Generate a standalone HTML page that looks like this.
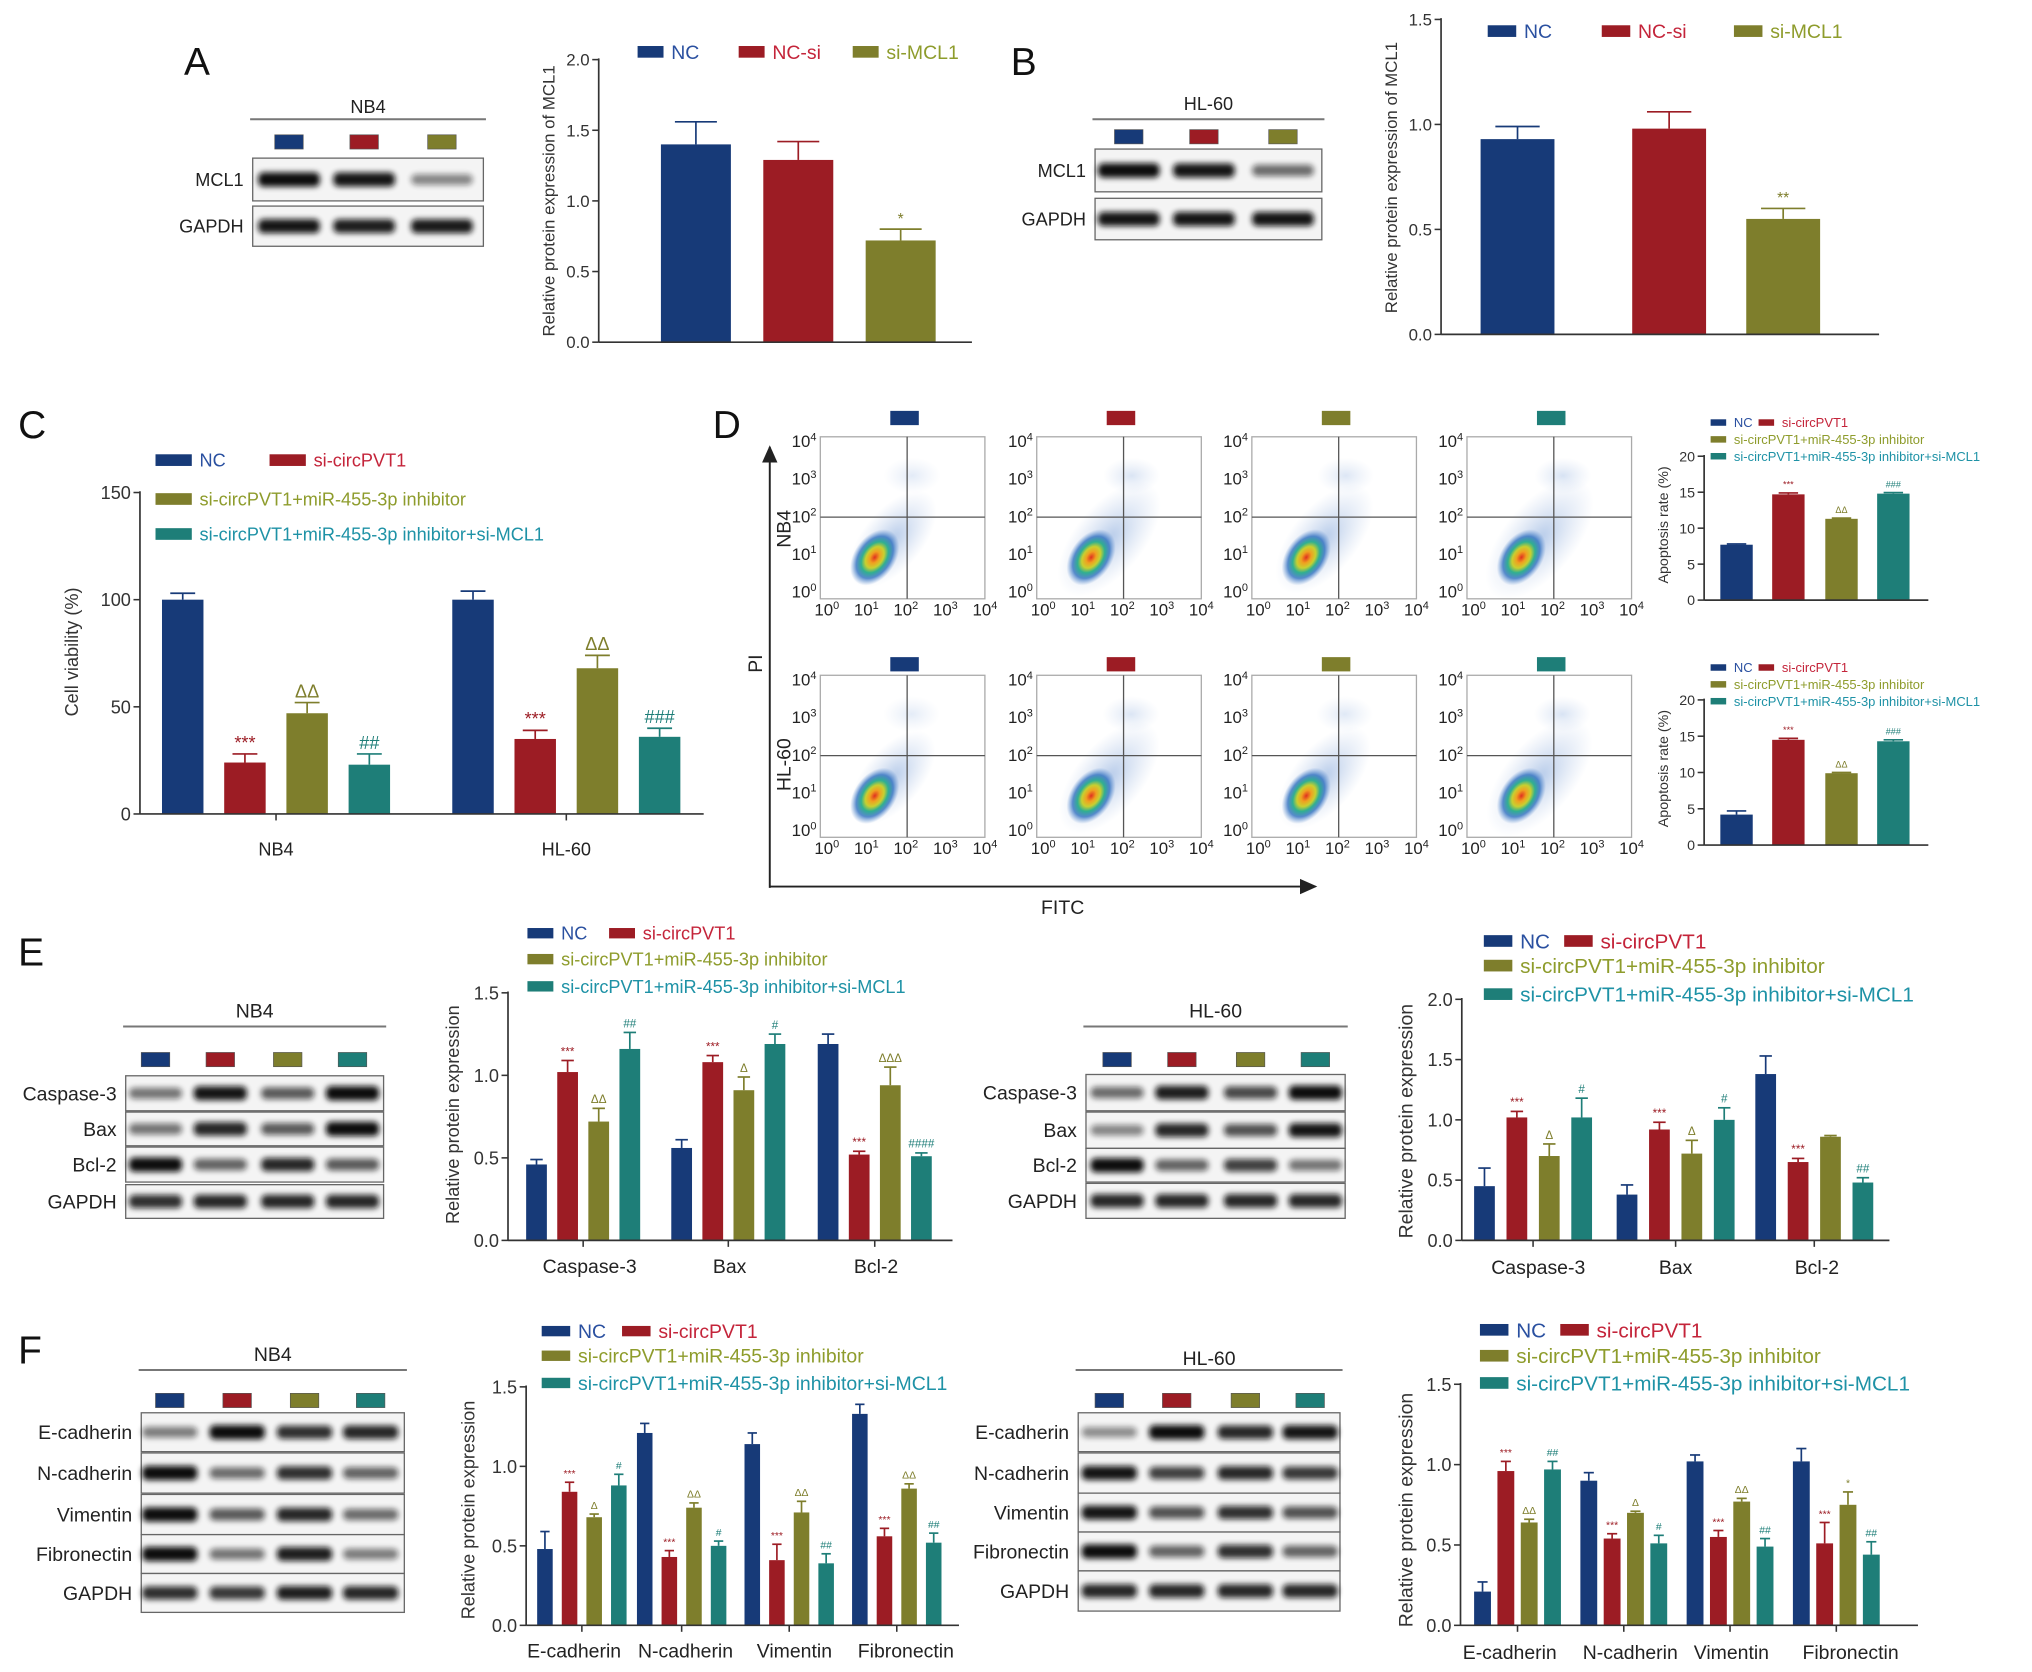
<!DOCTYPE html>
<html><head><meta charset="utf-8"><style>
html,body{margin:0;padding:0;background:#fff;}
svg{display:block;font-family:"Liberation Sans",Arial,sans-serif;}
</style></head><body>
<svg id="fig" xmlns="http://www.w3.org/2000/svg" width="2032" height="1672" viewBox="0 0 1568 1290" preserveAspectRatio="none">
<defs>
<filter id="blur" x="-20%" y="-100%" width="140%" height="300%"><feGaussianBlur stdDeviation="2.2"/></filter>
<radialGradient id="dens"><stop offset="0" stop-color="#e03020"/><stop offset="0.2" stop-color="#f0a020"/><stop offset="0.38" stop-color="#c8d030"/><stop offset="0.55" stop-color="#30b090"/><stop offset="0.75" stop-color="#3070c0" stop-opacity="0.8"/><stop offset="1" stop-color="#6090d0" stop-opacity="0"/></radialGradient>
<radialGradient id="halo"><stop offset="0" stop-color="#7aa0d8" stop-opacity="0.55"/><stop offset="1" stop-color="#a0b8e0" stop-opacity="0"/></radialGradient>
<marker id="arr" markerWidth="10" markerHeight="10" refX="8" refY="5" orient="auto"><path d="M0,1 L9,5 L0,9 z" fill="#222"/></marker>
</defs>
<g id="root"></g>
</svg>
<script>
// ---------------- DATA ----------------
const aCats = ['NC','NC-si','si-MCL1'];
const aVals = [1.40, 1.29, 0.72];
const aErr  = [1.56, 1.42, 0.80];
const aMarks = ['', '', '*'];
const aTicks = ['0.0','0.5','1.0','1.5','2.0'];

const bVals = [0.93, 0.98, 0.55];
const bErr  = [0.99, 1.06, 0.60];
const bMarks = ['', '', '**'];
const bTicks = ['0.0','0.5','1.0','1.5'];

const cCats = ['NB4','HL-60'];
const cTicks = ['0','50','100','150'];
const cNC = [100, 100], cNCe = [103, 104];
const cSi = [24, 35], cSie = [28, 39];
const cInh = [47, 68], cInhe = [52, 74];
const cMcl = [23, 36], cMcle = [28, 40];
const cMarks = [['',''],['***','***'],['ΔΔ','ΔΔ'],['##','###']];

const dTicks = ['0','5','10','15','20'];
const dTopVals = [7.7, 14.7, 11.3, 14.8];
const dTopErr  = [7.8, 14.9, 11.4, 14.95];
const dTopMarks = ['', '***', 'ΔΔ', '###'];
const dBotVals = [4.2, 14.5, 9.9, 14.3];
const dBotErr  = [4.7, 14.7, 10.0, 14.5];
const dBotMarks = ['', '***', 'ΔΔ', '###'];

const eCats = ['Caspase-3','Bax','Bcl-2'];
const e1Ticks = ['0.0','0.5','1.0','1.5'];
const e1NC = [0.46, 0.56, 1.19], e1NCe = [0.49, 0.61, 1.25];
const e1Si = [1.02, 1.08, 0.52], e1Sie = [1.09, 1.12, 0.54];
const e1Inh = [0.72, 0.91, 0.94], e1Inhe = [0.80, 0.99, 1.05];
const e1Mcl = [1.16, 1.19, 0.51], e1Mcle = [1.26, 1.25, 0.53];
const e1Marks = [['','',''],['***','***','***'],['ΔΔ','Δ','ΔΔΔ'],['##','#','####']];

const e2Ticks = ['0.0','0.5','1.0','1.5','2.0'];
const e2NC = [0.45, 0.38, 1.38], e2NCe = [0.60, 0.46, 1.53];
const e2Si = [1.02, 0.92, 0.65], e2Sie = [1.07, 0.98, 0.68];
const e2Inh = [0.70, 0.72, 0.86], e2Inhe = [0.80, 0.83, 0.87];
const e2Mcl = [1.02, 1.00, 0.48], e2Mcle = [1.18, 1.10, 0.52];
const e2Marks = [['','',''],['***','***','***'],['Δ','Δ',''],['#','#','##']];

const fCats = ['E-cadherin','N-cadherin','Vimentin','Fibronectin'];
const fTicks = ['0.0','0.5','1.0','1.5'];
const f1NC = [0.48, 1.21, 1.14, 1.33], f1NCe = [0.59, 1.27, 1.21, 1.39];
const f1Si = [0.84, 0.43, 0.41, 0.56], f1Sie = [0.90, 0.47, 0.51, 0.61];
const f1Inh = [0.68, 0.74, 0.71, 0.86], f1Inhe = [0.70, 0.77, 0.78, 0.89];
const f1Mcl = [0.88, 0.50, 0.39, 0.52], f1Mcle = [0.95, 0.53, 0.45, 0.58];
const f1Marks = [['','','',''],['***','***','***','***'],['Δ','ΔΔ','ΔΔ','ΔΔ'],['#','#','##','##']];

const f2NC = [0.21, 0.90, 1.02, 1.02], f2NCe = [0.27, 0.95, 1.06, 1.10];
const f2Si = [0.96, 0.54, 0.55, 0.51], f2Sie = [1.02, 0.57, 0.59, 0.64];
const f2Inh = [0.64, 0.70, 0.77, 0.75], f2Inhe = [0.66, 0.71, 0.79, 0.83];
const f2Mcl = [0.97, 0.51, 0.49, 0.44], f2Mcle = [1.02, 0.56, 0.54, 0.52];
const f2Marks = [['','','',''],['***','***','***','***'],['ΔΔ','Δ','ΔΔ','*'],['##','#','##','##']];

// ---------------- HELPERS ----------------
const NS = 'http://www.w3.org/2000/svg';
const root = document.getElementById('root');
const COL = ['#173a78', '#9c1c24', '#7e7e2c', '#1e7e78'];
const TCOL = ['#2a50a0', '#c4243a', '#8e9c2c', '#1e92a6'];
function mk(tag, attrs, parent, text) {
  const e = document.createElementNS(NS, tag);
  for (const k in attrs) e.setAttribute(k, attrs[k]);
  if (text !== undefined) e.textContent = text;
  (parent || root).appendChild(e);
  return e;
}
function txt(x, y, s, size, anchor, color, parent, extra) {
  const a = Object.assign({x: x, y: y, 'font-size': size, 'text-anchor': anchor || 'start', fill: color || '#222'}, extra || {});
  const t = mk('text', a, parent, s);
  return t;
}

function barChart(cfg) {
  const g = mk('g', {});
  
  
  const yv = v => cfg.yBase - v / cfg.max * (cfg.yBase - cfg.yTop);
  const n = cfg.series.length;
  cfg.series.forEach((vals, s) => {
    vals.forEach((v, i) => {
      const cx = cfg.centers[i] + (s - (n - 1) / 2) * cfg.step;
      const col = cfg.colorByGroup ? COL[i] : COL[s];
      const x = cx - cfg.w / 2;
      const err = cfg.errs[s][i];
      const el = mk('line', {x1: cx, x2: cx, y1: yv(v), y2: yv(err), stroke: col, 'stroke-width': 1.3}, g);
      
      
      const cap = mk('line', {x1: cx - cfg.w * 0.3, x2: cx + cfg.w * 0.3, y1: yv(err), y2: yv(err), stroke: col, 'stroke-width': 1.3}, g);
      
      
      const r = mk('rect', {x: x, y: yv(v), width: cfg.w, height: cfg.yBase - yv(v), fill: col}, g);
      
      
      const m = cfg.marks[s][i];
      if (m) {
        const t = txt(cx, yv(err) - 4, m, cfg.markSize || 9, 'middle', col, g);
        
        
      }
    });
  });
  const ya = mk('line', {x1: cfg.x0, x2: cfg.x0, y1: cfg.yTop - 1, y2: cfg.yBase, stroke: '#333', 'stroke-width': 1.3}, g);
  
  
  const xa = mk('line', {x1: cfg.x0, x2: cfg.x1, y1: cfg.yBase, y2: cfg.yBase, stroke: '#333', 'stroke-width': 1.3}, g);
  
  
  cfg.ticks.forEach((lab, i) => {
    const v = cfg.max * i / (cfg.ticks.length - 1);
    const y = yv(v);
    mk('line', {x1: cfg.x0 - 5, x2: cfg.x0, y1: y, y2: y, stroke: '#333', 'stroke-width': 1.2}, g);
    const t = txt(cfg.x0 - 7, y + cfg.tick * 0.36, lab, cfg.tick, 'end', '#333', g);
    
    
  });
  if (cfg.cats) {
    cfg.cats.forEach((c, i) => {
      const cx = cfg.catX ? cfg.catX[i] : cfg.centers[i];
      mk('line', {x1: cfg.centers[i], x2: cfg.centers[i], y1: cfg.yBase, y2: cfg.yBase + 5, stroke: '#333', 'stroke-width': 1.2}, g);
      const t = txt(cx, cfg.catY, c, cfg.catSize, 'middle', '#222', g);
      
      
    });
  }
  const yl = txt(0, 0, cfg.ylabel, cfg.ylSize, 'middle', '#333', g, {transform: 'translate(' + cfg.ylX + ',' + cfg.ylY + ') rotate(-90)'});
  
  
}

function legend(items, sw, sh, size) {
  items.forEach(it => {
    const r = mk('rect', {x: it[0], y: it[1] - sh / 2, width: sw, height: sh, fill: COL[it[2]]});
    
    
    const t = txt(it[0] + sw + 6, it[1] + size * 0.36, it[3], size, 'start', TCOL[it[2]]);
    
    
  });
}

function blot(cfg) {
  const g = mk('g', {});
  
  
  const t = txt((cfg.x0 + cfg.x1) / 2, cfg.titleY, cfg.title, cfg.size, 'middle', '#222', g);
  
  
  mk('line', {x1: cfg.x0, x2: cfg.x1, y1: cfg.lineY, y2: cfg.lineY, stroke: '#777', 'stroke-width': 1.5}, g);
  cfg.lanes.forEach((lx, i) => {
    const s = mk('rect', {x: lx - 11, y: cfg.sqY, width: 22, height: 11, fill: COL[i], stroke: '#555', 'stroke-width': 0.5}, g);
    
    
  });
  cfg.rows.forEach(row => {
    const [lab, y0, y1, ints] = row;
    const b = mk('rect', {x: cfg.x0 + 2, y: y0, width: cfg.x1 - cfg.x0 - 4, height: y1 - y0, fill: '#f4f4f4', stroke: '#666', 'stroke-width': 1}, g);
    
    
    const cy = (y0 + y1) / 2;
    const bw = (cfg.lanes[1] - cfg.lanes[0]) * 0.82;
    ints.forEach((v, i) => {
      const band = mk('rect', {x: cfg.lanes[i] - bw / 2, y: cy - 3.5 - v * 2, width: bw, height: 7 + v * 4, rx: 4, fill: '#111', opacity: 0.25 + v * 0.75, filter: 'url(#blur)'}, g);
      
      
    });
    const l = txt(cfg.x0 - 5, cy + cfg.size * 0.36, lab, cfg.size, 'end', '#222', g);
    
    
  });
}

function pow10(x, y, e, size, anchor, parent) {
  const t = mk('text', {x: x, y: y, 'font-size': size, 'text-anchor': anchor, fill: '#222'}, parent);
  mk('tspan', {}, t, '10');
  mk('tspan', {dy: -size * 0.4, 'font-size': size * 0.65}, t, String(e));
  return t;
}

function flow(x0, y0, spread, idx, parent) {
  const g = mk('g', {}, parent);
  
  
  const w = 127, h = 125;
  const cx = x0 + 42, cy = y0 + h - 32;
  mk('ellipse', {cx: cx + 14, cy: cy - 14, rx: 42 + spread * 14, ry: 22 + spread * 6, fill: 'url(#halo)', transform: 'rotate(-50 ' + (cx + 14) + ' ' + (cy - 14) + ')'}, g);
  mk('ellipse', {cx: cx + 28 + spread * 4, cy: y0 + 30, rx: 22, ry: 14, fill: 'url(#halo)', opacity: 0.35 + spread * 0.2}, g);
  const d = mk('ellipse', {cx: cx, cy: cy, rx: 24, ry: 16, fill: 'url(#dens)', transform: 'rotate(-55 ' + cx + ' ' + cy + ')'}, g);
  
  
  mk('rect', {x: x0, y: y0, width: w, height: h, fill: 'none', stroke: '#aaa', 'stroke-width': 1}, g);
  mk('line', {x1: x0 + 67, x2: x0 + 67, y1: y0, y2: y0 + h, stroke: '#555', 'stroke-width': 1}, g);
  mk('line', {x1: x0, x2: x0 + w, y1: y0 + 62, y2: y0 + 62, stroke: '#555', 'stroke-width': 1}, g);
  for (let i = 0; i <= 4; i++) {
    pow10(x0 + 5 + i * 30.5, y0 + h + 13, i, 13, 'middle', g);
    pow10(x0 - 3, y0 + 8 + (4 - i) * 29, i, 13, 'end', g);
  }
}

// ---------------- PANEL LETTERS ----------------
[['A', 142, 58], ['B', 780, 58], ['C', 14, 338], ['D', 550, 338], ['E', 14, 745], ['F', 14, 1052]].forEach(p => {
  const t = txt(p[1], p[2], p[0], 30, 'start', '#111');
  
  
});

// ---------------- PANEL A ----------------
blot({name: 'blot-a-nb4', title: 'NB4', x0: 193, x1: 375, titleY: 87, lineY: 92, sqY: 104, size: 14,
  lanes: [223, 281, 341],
  rows: [['MCL1', 122, 155, [1, 0.95, 0.3]], ['GAPDH', 159, 190, [0.95, 0.9, 0.92]]]});
barChart({name: 'chart-a', x0: 462, x1: 750, yBase: 264, yTop: 46, max: 2, ticks: aTicks, tick: 13,
  centers: [537, 616, 695], step: 0, w: 54, colorByGroup: true,
  series: [aVals], errs: [aErr], marks: [aMarks], markSize: 12,
  ylabel: 'Relative protein expression of MCL1', ylSize: 13, ylX: 428, ylY: 155});
legend([[492, 40, 0, 'NC'], [570, 40, 1, 'NC-si'], [658, 40, 2, 'si-MCL1']], 20, 9, 15);

// ---------------- PANEL B ----------------
blot({name: 'blot-b-hl60', title: 'HL-60', x0: 843, x1: 1022, titleY: 85, lineY: 92, sqY: 100, size: 14,
  lanes: [871, 929, 990],
  rows: [['MCL1', 115, 148, [1, 0.95, 0.45]], ['GAPDH', 153, 185, [0.95, 0.95, 0.95]]]});
barChart({name: 'chart-b', x0: 1112, x1: 1450, yBase: 258, yTop: 15, max: 1.5, ticks: bTicks, tick: 13,
  centers: [1171, 1288, 1376], step: 0, w: 57, colorByGroup: true,
  series: [bVals], errs: [bErr], marks: [bMarks], markSize: 12,
  ylabel: 'Relative protein expression of MCL1', ylSize: 13, ylX: 1078, ylY: 137});
legend([[1148, 24, 0, 'NC'], [1236, 24, 1, 'NC-si'], [1338, 24, 2, 'si-MCL1']], 22, 9, 15);

// ---------------- PANEL C ----------------
legend([[120, 355, 0, 'NC'], [208, 355, 1, 'si-circPVT1'], [120, 385, 2, 'si-circPVT1+miR-455-3p inhibitor'], [120, 412, 3, 'si-circPVT1+miR-455-3p inhibitor+si-MCL1']], 28, 9, 14);
barChart({name: 'chart-c-cell-viability', x0: 108, x1: 543, yBase: 628, yTop: 380, max: 150, ticks: cTicks, tick: 14,
  centers: [213, 437], step: 48, w: 32, cats: cCats, catY: 660, catSize: 14,
  series: [cNC, cSi, cInh, cMcl], errs: [cNCe, cSie, cInhe, cMcle], marks: cMarks, markSize: 14,
  ylabel: 'Cell viability (%)', ylSize: 14, ylX: 60, ylY: 503});

// ---------------- PANEL D ----------------
const dg = mk('g', {});


const flowX = [633, 800, 966, 1132];
const spreads = [[0.2, 0.8, 0.6, 1.0], [0.1, 0.7, 0.4, 0.9]];
flowX.forEach((x, i) => {
  flow(x, 337, spreads[0][i], i, dg);
  flow(x, 521, spreads[1][i], i, dg);
  const s1 = mk('rect', {x: x + 54, y: 317, width: 22, height: 11, fill: COL[i]}, dg);
  
  
  const s2 = mk('rect', {x: x + 54, y: 507, width: 22, height: 11, fill: COL[i]}, dg);
  
  
});
const pa = mk('line', {x1: 594, y1: 685, x2: 594, y2: 345, stroke: '#222', 'stroke-width': 1.5, 'marker-end': 'url(#arr)'});


const fa = mk('line', {x1: 594, y1: 684, x2: 1015, y2: 684, stroke: '#222', 'stroke-width': 1.5, 'marker-end': 'url(#arr)'});


const piT = txt(0, 0, 'PI', 15, 'middle', '#222', null, {transform: 'translate(588,512) rotate(-90)'});


const fiT = txt(820, 705, 'FITC', 15, 'middle', '#222');


const nbT = txt(0, 0, 'NB4', 15, 'middle', '#222', null, {transform: 'translate(610,408) rotate(-90)'});


const hlT = txt(0, 0, 'HL-60', 15, 'middle', '#222', null, {transform: 'translate(610,590) rotate(-90)'});



legend([[1320, 326, 0, 'NC'], [1357, 326, 1, 'si-circPVT1'], [1320, 339, 2, 'si-circPVT1+miR-455-3p inhibitor'], [1320, 352, 3, 'si-circPVT1+miR-455-3p inhibitor+si-MCL1']], 12, 5, 10);
barChart({name: 'chart-d-nb4-apoptosis', x0: 1315, x1: 1488, yBase: 463, yTop: 352, max: 20, ticks: dTicks, tick: 11,
  centers: [1340, 1380, 1421, 1461], step: 0, w: 25, colorByGroup: true,
  series: [dTopVals], errs: [dTopErr], marks: [dTopMarks], markSize: 7,
  ylabel: 'Apoptosis rate (%)', ylSize: 11, ylX: 1287, ylY: 405});
legend([[1320, 515, 0, 'NC'], [1357, 515, 1, 'si-circPVT1'], [1320, 528, 2, 'si-circPVT1+miR-455-3p inhibitor'], [1320, 541, 3, 'si-circPVT1+miR-455-3p inhibitor+si-MCL1']], 12, 5, 10);
barChart({name: 'chart-d-hl60-apoptosis', x0: 1315, x1: 1488, yBase: 652, yTop: 540, max: 20, ticks: dTicks, tick: 11,
  centers: [1340, 1380, 1421, 1461], step: 0, w: 25, colorByGroup: true,
  series: [dBotVals], errs: [dBotErr], marks: [dBotMarks], markSize: 7,
  ylabel: 'Apoptosis rate (%)', ylSize: 11, ylX: 1287, ylY: 593});

// ---------------- PANEL E ----------------
blot({name: 'blot-e-nb4', title: 'NB4', x0: 95, x1: 298, titleY: 785, lineY: 792, sqY: 812, size: 15,
  lanes: [120, 170, 222, 272],
  rows: [['Caspase-3', 830, 857, [0.4, 0.95, 0.55, 1]], ['Bax', 858, 884, [0.4, 0.85, 0.55, 1]],
         ['Bcl-2', 885, 912, [1, 0.5, 0.85, 0.55]], ['GAPDH', 914, 940, [0.8, 0.85, 0.85, 0.85]]]});
legend([[407, 720, 0, 'NC'], [470, 720, 1, 'si-circPVT1'], [407, 740, 2, 'si-circPVT1+miR-455-3p inhibitor'], [407, 761, 3, 'si-circPVT1+miR-455-3p inhibitor+si-MCL1']], 20, 8, 14);
barChart({name: 'chart-e-nb4', x0: 392, x1: 735, yBase: 957, yTop: 766, max: 1.5, ticks: e1Ticks, tick: 14,
  centers: [450, 562, 675], step: 24, w: 16, cats: eCats, catX: [455, 563, 676], catY: 982, catSize: 15,
  series: [e1NC, e1Si, e1Inh, e1Mcl], errs: [e1NCe, e1Sie, e1Inhe, e1Mcle], marks: e1Marks, markSize: 9,
  ylabel: 'Relative protein expression', ylSize: 14, ylX: 354, ylY: 860});

blot({name: 'blot-e-hl60', title: 'HL-60', x0: 836, x1: 1040, titleY: 785, lineY: 792, sqY: 812, size: 15,
  lanes: [862, 912, 965, 1015],
  rows: [['Caspase-3', 829, 857, [0.45, 0.9, 0.65, 1]], ['Bax', 858, 886, [0.3, 0.85, 0.6, 0.95]],
         ['Bcl-2', 886, 912, [1, 0.5, 0.7, 0.4]], ['GAPDH', 913, 940, [0.85, 0.85, 0.85, 0.85]]]});
legend([[1145, 726, 0, 'NC'], [1207, 726, 1, 'si-circPVT1'], [1145, 745, 2, 'si-circPVT1+miR-455-3p inhibitor'], [1145, 767, 3, 'si-circPVT1+miR-455-3p inhibitor+si-MCL1']], 22, 9, 16);
barChart({name: 'chart-e-hl60', x0: 1128, x1: 1458, yBase: 957, yTop: 771, max: 2, ticks: e2Ticks, tick: 14,
  centers: [1183, 1293, 1400], step: 25, w: 16, cats: eCats, catX: [1187, 1293, 1402], catY: 983, catSize: 15,
  series: [e2NC, e2Si, e2Inh, e2Mcl], errs: [e2NCe, e2Sie, e2Inhe, e2Mcle], marks: e2Marks, markSize: 9,
  ylabel: 'Relative protein expression', ylSize: 15, ylX: 1090, ylY: 865});

// ---------------- PANEL F ----------------
blot({name: 'blot-f-nb4', title: 'NB4', x0: 107, x1: 314, titleY: 1050, lineY: 1057, sqY: 1075, size: 15,
  lanes: [131, 183, 235, 286],
  rows: [['E-cadherin', 1090, 1120, [0.35, 1, 0.8, 0.85]], ['N-cadherin', 1121, 1152, [1, 0.45, 0.8, 0.5]],
         ['Vimentin', 1153, 1184, [1, 0.55, 0.85, 0.45]], ['Fibronectin', 1184, 1214, [1, 0.4, 0.9, 0.35]],
         ['GAPDH', 1214, 1244, [0.8, 0.75, 0.9, 0.85]]]});
legend([[418, 1027, 0, 'NC'], [480, 1027, 1, 'si-circPVT1'], [418, 1046, 2, 'si-circPVT1+miR-455-3p inhibitor'], [418, 1067, 3, 'si-circPVT1+miR-455-3p inhibitor+si-MCL1']], 22, 8, 15);
barChart({name: 'chart-f-nb4', x0: 406, x1: 740, yBase: 1254, yTop: 1070, max: 1.5, ticks: fTicks, tick: 14,
  centers: [449, 526, 609, 692], step: 19, w: 12, cats: fCats, catX: [443, 529, 613, 699], catY: 1279, catSize: 15,
  series: [f1NC, f1Si, f1Inh, f1Mcl], errs: [f1NCe, f1Sie, f1Inhe, f1Mcle], marks: f1Marks, markSize: 8,
  ylabel: 'Relative protein expression', ylSize: 14, ylX: 366, ylY: 1165});

blot({name: 'blot-f-hl60', title: 'HL-60', x0: 830, x1: 1036, titleY: 1053, lineY: 1057, sqY: 1075, size: 15,
  lanes: [856, 908, 961, 1011],
  rows: [['E-cadherin', 1090, 1120, [0.25, 1, 0.85, 0.95]], ['N-cadherin', 1121, 1152, [0.95, 0.7, 0.85, 0.75]],
         ['Vimentin', 1152, 1182, [0.95, 0.6, 0.8, 0.6]], ['Fibronectin', 1182, 1212, [1, 0.5, 0.8, 0.5]],
         ['GAPDH', 1212, 1243, [0.85, 0.85, 0.85, 0.85]]]});
legend([[1142, 1026, 0, 'NC'], [1204, 1026, 1, 'si-circPVT1'], [1142, 1046, 2, 'si-circPVT1+miR-455-3p inhibitor'], [1142, 1067, 3, 'si-circPVT1+miR-455-3p inhibitor+si-MCL1']], 22, 9, 16);
barChart({name: 'chart-f-hl60', x0: 1127, x1: 1480, yBase: 1254, yTop: 1068, max: 1.5, ticks: fTicks, tick: 14,
  centers: [1171, 1253, 1335, 1417], step: 18, w: 13, cats: fCats, catX: [1165, 1258, 1336, 1428], catY: 1280, catSize: 15,
  series: [f2NC, f2Si, f2Inh, f2Mcl], errs: [f2NCe, f2Sie, f2Inhe, f2Mcle], marks: f2Marks, markSize: 8,
  ylabel: 'Relative protein expression', ylSize: 15, ylX: 1090, ylY: 1165});
</script>
</body></html>
